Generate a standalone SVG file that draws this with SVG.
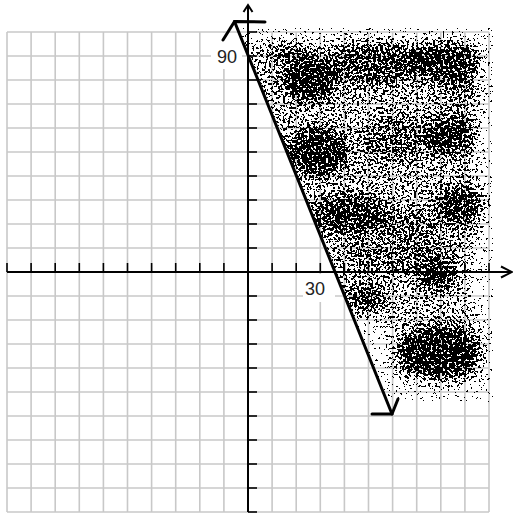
<svg xmlns="http://www.w3.org/2000/svg" width="513" height="515" viewBox="0 0 513 515">
<style>
.grid line{stroke:#c8c8c8;stroke-width:1.6}
.axis{stroke:#000;stroke-width:2;fill:none}
.tick{stroke:#000;stroke-width:1.6}
.main{stroke:#000;stroke-width:3;fill:none;stroke-linecap:round;stroke-linejoin:round}
.lbl{font-family:"Liberation Sans",Arial,sans-serif;font-size:18px;fill:#222}
</style>
<defs>
<filter id="stip" filterUnits="userSpaceOnUse" x="236" y="26" width="262" height="376" color-interpolation-filters="sRGB">
<feGaussianBlur in="SourceAlpha" stdDeviation="7" result="b"/>
<feColorMatrix in="b" type="matrix" values="0 0 0 1 0  0 0 0 1 0  0 0 0 1 0  0 0 0 0 1" result="d"/>
<feTurbulence type="fractalNoise" baseFrequency="0.42" numOctaves="2" seed="5" result="t"/>
<feColorMatrix in="t" type="matrix" values="1 0 0 0 0  1 0 0 0 0  1 0 0 0 0  0 0 0 0 1" result="n"/>
<feComposite in="n" in2="d" operator="arithmetic" k1="0" k2="1" k3="0.55" k4="-0.2" result="s"/>
<feColorMatrix in="s" type="matrix" values="0 0 0 0 0  0 0 0 0 0  0 0 0 0 0  1 0 0 0 0"/>
<feComponentTransfer><feFuncA type="discrete" tableValues="0 1"/></feComponentTransfer>
</filter>
<clipPath id="rightOfLine"><polygon points="238.5,28 493,28 493,402 388,402"/></clipPath>
</defs>
<rect width="513" height="515" fill="#fff"/>
<g id="grid" class="grid">
<line x1="7" y1="32" x2="7" y2="512"/><line x1="31.1" y1="32" x2="31.1" y2="512"/><line x1="55.2" y1="32" x2="55.2" y2="512"/><line x1="79.3" y1="32" x2="79.3" y2="512"/><line x1="103.4" y1="32" x2="103.4" y2="512"/><line x1="127.5" y1="32" x2="127.5" y2="512"/><line x1="151.6" y1="32" x2="151.6" y2="512"/><line x1="175.7" y1="32" x2="175.7" y2="512"/><line x1="199.8" y1="32" x2="199.8" y2="512"/><line x1="223.9" y1="32" x2="223.9" y2="512"/><line x1="272.1" y1="32" x2="272.1" y2="512"/><line x1="296.2" y1="32" x2="296.2" y2="512"/><line x1="320.3" y1="32" x2="320.3" y2="512"/><line x1="344.4" y1="32" x2="344.4" y2="512"/><line x1="368.5" y1="32" x2="368.5" y2="512"/><line x1="392.6" y1="32" x2="392.6" y2="512"/><line x1="416.7" y1="32" x2="416.7" y2="512"/><line x1="440.8" y1="32" x2="440.8" y2="512"/><line x1="464.9" y1="32" x2="464.9" y2="512"/><line x1="489" y1="32" x2="489" y2="512"/>
<line x1="7" y1="32" x2="489" y2="32"/><line x1="7" y1="56" x2="489" y2="56"/><line x1="7" y1="80" x2="489" y2="80"/><line x1="7" y1="104" x2="489" y2="104"/><line x1="7" y1="128" x2="489" y2="128"/><line x1="7" y1="152" x2="489" y2="152"/><line x1="7" y1="176" x2="489" y2="176"/><line x1="7" y1="200" x2="489" y2="200"/><line x1="7" y1="224" x2="489" y2="224"/><line x1="7" y1="248" x2="489" y2="248"/><line x1="7" y1="296" x2="489" y2="296"/><line x1="7" y1="320" x2="489" y2="320"/><line x1="7" y1="344" x2="489" y2="344"/><line x1="7" y1="368" x2="489" y2="368"/><line x1="7" y1="392" x2="489" y2="392"/><line x1="7" y1="416" x2="489" y2="416"/><line x1="7" y1="440" x2="489" y2="440"/><line x1="7" y1="464" x2="489" y2="464"/><line x1="7" y1="488" x2="489" y2="488"/><line x1="7" y1="512" x2="489" y2="512"/>
</g>
<g id="stipple" clip-path="url(#rightOfLine)">
<g filter="url(#stip)" fill="#fff">
<polygon fill-opacity="0.25" points="240,43 330,40 420,42 478,45 481,100 477,150 481,185 482,235 473,262 467,300 481,318 482,378 440,385 400,382 390,370 388,328 355,316 335,300 240,300"/>
<ellipse cx="310" cy="80" rx="28" ry="22" fill-opacity="0.45"/>
<ellipse cx="290" cy="52" rx="25" ry="12" fill-opacity="0.25"/>
<ellipse cx="375" cy="62" rx="45" ry="24" fill-opacity="0.3"/>
<ellipse cx="445" cy="60" rx="38" ry="21" fill-opacity="0.4"/>
<ellipse cx="463" cy="90" rx="18" ry="15" fill-opacity="0.2"/>
<ellipse cx="318" cy="152" rx="30" ry="24" fill-opacity="0.45"/>
<ellipse cx="395" cy="140" rx="35" ry="25" fill-opacity="0.2"/>
<ellipse cx="450" cy="135" rx="26" ry="20" fill-opacity="0.4"/>
<ellipse cx="350" cy="215" rx="38" ry="20" fill-opacity="0.4"/>
<ellipse cx="460" cy="205" rx="26" ry="20" fill-opacity="0.4"/>
<ellipse cx="410" cy="225" rx="30" ry="15" fill-opacity="0.2"/>
<ellipse cx="400" cy="255" rx="60" ry="15" fill-opacity="0.2"/>
<ellipse cx="437" cy="275" rx="20" ry="15" fill-opacity="0.4"/>
<ellipse cx="365" cy="297" rx="20" ry="14" fill-opacity="0.35"/>
<ellipse cx="440" cy="352" rx="43" ry="27" fill-opacity="0.45"/>
</g>
</g>
<g id="axes">
<line class="axis" x1="248" y1="6" x2="248" y2="512"/>
<polyline class="axis" stroke-width="1.6" points="243.5,12 248,5 252.5,12"/>
<line class="axis" x1="7" y1="272" x2="511" y2="272"/>
<polyline class="axis" stroke-width="1.6" points="501,266.5 512,272 501,277.5"/>
<g class="tick">
<line x1="7" y1="263" x2="7" y2="272"/><line x1="31.1" y1="263" x2="31.1" y2="272"/><line x1="55.2" y1="263" x2="55.2" y2="272"/><line x1="79.3" y1="263" x2="79.3" y2="272"/><line x1="103.4" y1="263" x2="103.4" y2="272"/><line x1="127.5" y1="263" x2="127.5" y2="272"/><line x1="151.6" y1="263" x2="151.6" y2="272"/><line x1="175.7" y1="263" x2="175.7" y2="272"/><line x1="199.8" y1="263" x2="199.8" y2="272"/><line x1="223.9" y1="263" x2="223.9" y2="272"/><line x1="272.1" y1="263" x2="272.1" y2="272"/><line x1="296.2" y1="263" x2="296.2" y2="272"/><line x1="320.3" y1="263" x2="320.3" y2="272"/><line x1="344.4" y1="263" x2="344.4" y2="272"/><line x1="368.5" y1="263" x2="368.5" y2="272"/><line x1="392.6" y1="263" x2="392.6" y2="272"/><line x1="416.7" y1="263" x2="416.7" y2="272"/><line x1="440.8" y1="263" x2="440.8" y2="272"/><line x1="464.9" y1="263" x2="464.9" y2="272"/><line x1="489" y1="263" x2="489" y2="272"/>
<line x1="248" y1="32" x2="257" y2="32"/><line x1="248" y1="56" x2="257" y2="56"/><line x1="248" y1="80" x2="257" y2="80"/><line x1="248" y1="104" x2="257" y2="104"/><line x1="248" y1="128" x2="257" y2="128"/><line x1="248" y1="152" x2="257" y2="152"/><line x1="248" y1="176" x2="257" y2="176"/><line x1="248" y1="200" x2="257" y2="200"/><line x1="248" y1="224" x2="257" y2="224"/><line x1="248" y1="248" x2="257" y2="248"/><line x1="248" y1="296" x2="257" y2="296"/><line x1="248" y1="320" x2="257" y2="320"/><line x1="248" y1="344" x2="257" y2="344"/><line x1="248" y1="368" x2="257" y2="368"/><line x1="248" y1="392" x2="257" y2="392"/><line x1="248" y1="416" x2="257" y2="416"/><line x1="248" y1="440" x2="257" y2="440"/><line x1="248" y1="464" x2="257" y2="464"/><line x1="248" y1="488" x2="257" y2="488"/><line x1="248" y1="512" x2="257" y2="512"/>
</g>
</g>
<g id="label90">
<rect x="211" y="33" width="31" height="36" fill="#fff"/>
<text class="lbl" x="217" y="63">90</text>
</g>
<g id="label30">
<rect x="303" y="274" width="32" height="28" fill="#fff"/>
<text class="lbl" x="305" y="295">30</text>
</g>
<g id="connectors">
<line class="main" x1="234.5" y1="21.5" x2="392" y2="414"/>
<polyline class="main" stroke-width="2.6" points="265,22 234.5,21.5 223,40"/>
<polyline class="main" stroke-width="2.6" points="372,414 392,414 398,399"/>
</g>
</svg>
